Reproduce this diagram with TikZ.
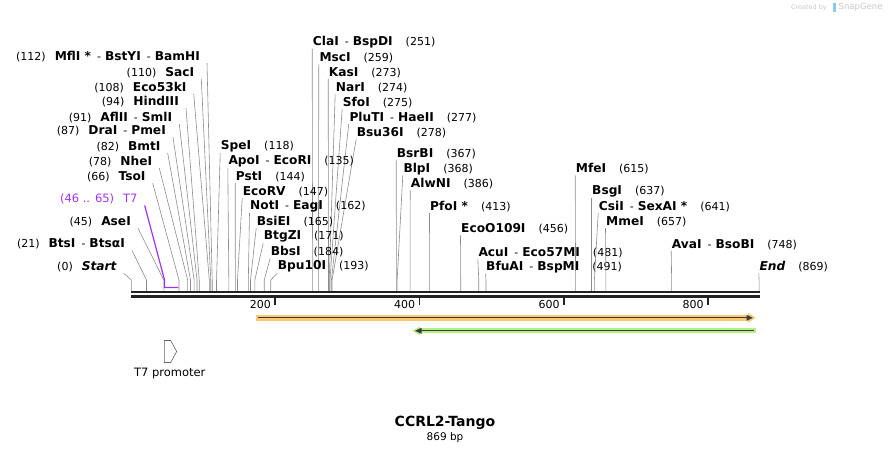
\documentclass[tikz,border=0pt]{standalone}
\usepackage{fontspec}
\setmainfont{DejaVu Sans}
\definecolor{cutgray}{RGB}{140,140,140}
\definecolor{bbcol}{RGB}{34,34,34}
\definecolor{t7col}{RGB}{160,50,240}
\definecolor{orangeF}{RGB}{250,200,115}
\definecolor{greenF}{RGB}{180,240,130}
\definecolor{featline}{RGB}{60,60,60}
\definecolor{wmgray}{RGB}{200,200,200}
\definecolor{wmblue}{RGB}{140,200,240}
\newcommand\enz[1]{{\fontsize{12.2}{14}\selectfont\bfseries #1}}
\newcommand\dsep{\hspace{6pt}-\hspace{4pt}}
\newcommand\lgap{\hspace{9pt}}
\newcommand\rgap{\hspace{13pt}}
\begin{document}
\begin{tikzpicture}[x=1pt,y=-1pt,
  lbl/.style={inner sep=0pt, font=\fontsize{11}{13}\selectfont},
  cutline/.style={draw=cutgray, line width=0.6pt},
  bbline/.style={draw=bbcol, line width=2.4pt},
  tickline/.style={draw=bbcol, line width=1.6pt},
]
\useasboundingbox (0,0) rectangle (891,454);

% left-side labels
\foreach \id/\tx/\ty/\site/\txt in {
  mfl/200/56.7/112/{(112)\lgap\enz{MflI *}\dsep\enz{BstYI}\dsep\enz{BamHI}},
  sac/194.3/72.3/110/{(110)\lgap\enz{SacI}},
  ecofs/186.7/87.3/108/{(108)\lgap\enz{Eco53kI}},
  hind/179/101.7/94/{(94)\lgap\enz{HindIII}},
  afl/172.3/117.3/91/{(91)\lgap\enz{AflII}\dsep\enz{SmlI}},
  dra/166/130.7/87/{(87)\lgap\enz{DraI}\dsep\enz{PmeI}},
  bmt/160.7/146.7/82/{(82)\lgap\enz{BmtI}},
  nhe/152.3/161.7/78/{(78)\lgap\enz{NheI}},
  tso/145.7/176.7/66/{(66)\lgap\enz{TsoI}},
  ase/131/221.7/45/{(45)\lgap\enz{AseI}},
  bts/125/244/21/{(21)\lgap\enz{BtsI}\dsep\enz{BtsαI}},
  start/116.7/266.7/0/{(0)\lgap\enz{\itshape Start}}}
{
  \node[lbl, anchor=east] (\id) at (\tx,\ty) {\txt};
  \coordinate (\id-cut) at ({131.3+0.7224*\site},280);
  \draw[cutline] ([shift={(7,6.5)}]\id.east) -- (\id-cut) -- ++(0,11);
}

% right-side labels
\foreach \id/\tx/\ty/\site/\txt in {
  cla/312.7/42.3/251/{\enz{ClaI}\dsep\enz{BspDI}\rgap(251)},
  msc/319.3/57.3/259/{\enz{MscI}\rgap(259)},
  kas/328.7/72.3/273/{\enz{KasI}\rgap(273)},
  nar/335.7/87.3/274/{\enz{NarI}\rgap(274)},
  sfo/342.7/102.3/275/{\enz{SfoI}\rgap(275)},
  plu/349.3/117.3/277/{\enz{PluTI}\dsep\enz{HaeII}\rgap(277)},
  bsu/356.7/132.3/278/{\enz{Bsu36I}\rgap(278)},
  spe/220.7/146.7/118/{\enz{SpeI}\rgap(118)},
  apo/228.3/161.7/135/{\enz{ApoI}\dsep\enz{EcoRI}\rgap(135)},
  pst/235.7/176.7/144/{\enz{PstI}\rgap(144)},
  ecorv/242.7/191.7/147/{\enz{EcoRV}\rgap(147)},
  notI/250/206.7/162/{\enz{NotI}\dsep\enz{EagI}\rgap(162)},
  bsie/256.7/221.7/165/{\enz{BsiEI}\rgap(165)},
  btgz/263.7/236.7/171/{\enz{BtgZI}\rgap(171)},
  bbs/270.7/251.7/184/{\enz{BbsI}\rgap(184)},
  bpu/277.7/266.7/193/{\enz{Bpu10I}\rgap(193)},
  bsrb/396.7/154/367/{\enz{BsrBI}\rgap(367)},
  blp/403.3/169/368/{\enz{BlpI}\rgap(368)},
  alwn/410.7/184/386/{\enz{AlwNI}\rgap(386)},
  pfo/430/206.7/413/{\enz{PfoI *}\rgap(413)},
  ecoo/461/229/456/{\enz{EcoO109I}\rgap(456)},
  acu/478.3/252.3/481/{\enz{AcuI}\dsep\enz{Eco57MI}\rgap(481)},
  bfua/486/267.3/491/{\enz{BfuAI}\dsep\enz{BspMI}\rgap(491)},
  mfe/575.7/169/615/{\enz{MfeI}\rgap(615)},
  bsg/592/191.7/637/{\enz{BsgI}\rgap(637)},
  csi/598.7/206.7/641/{\enz{CsiI}\dsep\enz{SexAI *}\rgap(641)},
  mme/606/221.7/657/{\enz{MmeI}\rgap(657)},
  ava/671.7/244.3/748/{\enz{AvaI}\dsep\enz{BsoBI}\rgap(748)},
  endl/759.3/266.7/869/{\enz{\itshape End}\rgap(869)}}
{
  \node[lbl, anchor=west] (\id) at (\tx,\ty) {\txt};
  \coordinate (\id-cut) at ({131.3+0.7224*\site},280);
  \draw[cutline] ([shift={(-0.5,6.5)}]\id.west) -- (\id-cut) -- ++(0,11);
}

% T7 feature label
\node[lbl, anchor=east, text=t7col, font=\fontsize{11.5}{13}\selectfont] (t7) at (137.7,199) {(46 .. 65)\lgap T7};
\coordinate (t7-a) at ({131.3+0.7224*46},280);
\coordinate (t7-b) at ({131.3+0.7224*65},287.5);
\draw[t7col, line width=1.2pt] ([shift={(7,6.5)}]t7.east) -- (t7-a) -- (t7-a |- t7-b) -- (t7-b);

% backbone
\draw[bbline] (131,292.2) -- (759.5,292.2);
\draw[bbline] (131,296.3) -- (759.5,296.3);

% ruler ticks
\foreach \p/\x in {200/275, 400/419.3, 600/563.7, 800/707.7}{
  \draw[tickline] (\x,297.5) -- (\x,304.5);
  \node[lbl, anchor=east] at (\x-4,304) {\p};
}

% orange feature (forward)
\fill[orangeF] (256,315) rectangle (749,320.6);
\fill[orangeF] (748,312.8) -- (755.5,317.8) -- (748,322.8) -- cycle;
\draw[featline, line width=1.3pt] (258,317.8) -- (749,317.8);
\fill[featline] (746.5,314.8) -- (752.8,317.8) -- (746.5,320.8) -- cycle;

% green feature (reverse)
\fill[greenF] (419,328.2) rectangle (756,333.4);
\fill[greenF] (420,326.5) -- (412.3,330.8) -- (420,335.2) -- cycle;
\draw[featline, line width=1.3pt] (420,330.8) -- (754,330.8);
\fill[featline] (421.5,327.8) -- (415,330.8) -- (421.5,333.8) -- cycle;

% legend: T7 promoter
\draw[draw=featline!80, line width=0.6pt, fill=white]
  (164.3,340.5) -- (170.7,340.5) -- (176.7,351.5) -- (170.7,362.5) -- (164.3,362.5) -- cycle;
\node[lbl, font=\fontsize{11.5}{13}\selectfont] (t7leg) at (169.7,373.3) {T7 promoter};

% title
\node[inner sep=0pt, font=\fontsize{14}{16}\selectfont\bfseries] (title) at (445,423.3) {CCRL2-Tango};
\node[inner sep=0pt, font=\fontsize{10.5}{12}\selectfont] (bp) at (445,437.7) {869 bp};

% watermark
\node[inner sep=0pt, anchor=east, text=wmgray, font=\fontsize{6.5}{8}\selectfont] (wm1) at (827,7.5) {Created by};
\fill[wmblue] (832.5,3) rectangle (835.5,12.5);
\node[inner sep=0pt, anchor=west, text=wmgray, font=\fontsize{8.5}{10}\selectfont] (wm2) at (838.5,7.5) {SnapGene};
\end{tikzpicture}
\end{document}
